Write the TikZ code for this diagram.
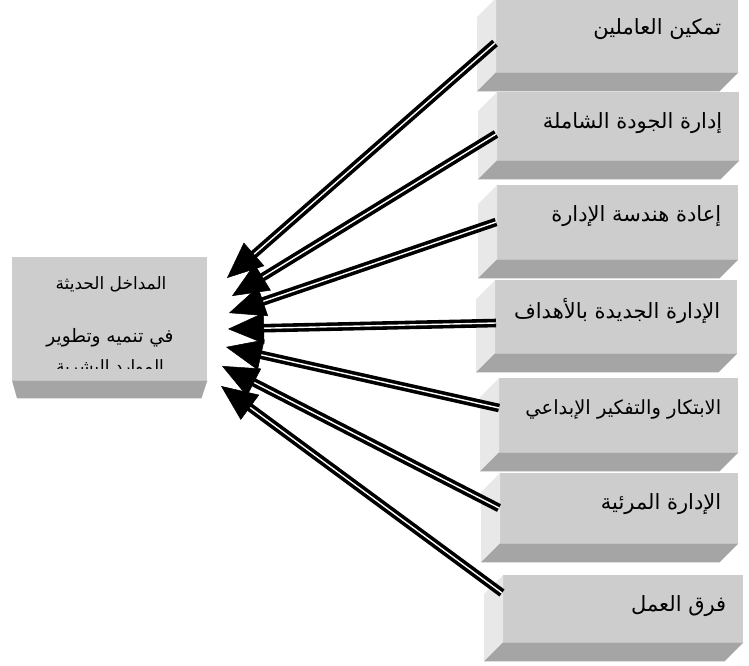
\documentclass[tikz,border=0pt]{standalone}
\usepackage{fontspec}
\newfontfamily\arabicfont[Script=Arabic]{DejaVu Sans}
\TeXXeTstate=1
\usetikzlibrary{calc,arrows.meta}
\definecolor{frontc}{RGB}{205,205,205}
\definecolor{sidec}{RGB}{232,232,232}
\definecolor{bottomc}{RGB}{165,165,165}
\tikzset{
 front/.style={fill=frontc, draw=none, inner sep=0pt, anchor=north west},
 sideface/.style={fill=sidec},
 bottomface/.style={fill=bottomc},
 lbl/.style={anchor=east, inner sep=0pt, text=black},
 conn/.style={draw=black, line width=3.6pt, double=white, double distance=1.4pt, shorten >=28pt},
 head/.style={-{Triangle[length=36pt,width=31pt]}, line width=0.5pt, draw=black, fill=black}
}
\newcommand\rbox[7]{%
 \node[front, minimum width=#4pt, minimum height=#5pt] (#1) at (#2,#3) {};
 \fill[sideface] (#1.north west) -- (#1.south west) -- ++(-19,19) -- ($(#1.north west)+(-19,19)$) -- cycle;
 \fill[bottomface] (#1.south west) -- (#1.south east) -- ++(-19,19) -- ($(#1.south west)+(-19,19)$) -- cycle;
 \node[lbl, font=\arabicfont\fontsize{#6}{#6}\selectfont] (#1t) at ($(#1.north east)+(-17,31)$) {#7};
}
\begin{document}
\begin{tikzpicture}[x=1pt,y=-1pt]
\useasboundingbox (0,0) rectangle (749,665);
% left box
\node[front, minimum width=195pt, minimum height=123pt] (L) at (12,257) {};
\fill[bottomface] (L.south west) -- (L.south east) -- ++(-6,18) -- ($(L.south west)+(5,18)$) -- cycle;
\node[font=\arabicfont\fontsize{17}{17}\selectfont, inner sep=0pt] (L1) at (111,284) {\beginR المداخل الحديثة\endR};
\node[font=\arabicfont\fontsize{18.5}{18.5}\selectfont, inner sep=0pt] (L2) at (110,338) {\beginR في تنميه وتطوير\endR};
\begin{scope}
\clip (12,350) rectangle (207,368.5);
\node[font=\arabicfont\fontsize{17}{17}\selectfont, inner sep=0pt] (L3) at (110,368) {\beginR الموارد البشرية\endR};
\end{scope}
% right boxes
\rbox{b1}{496}{-2}{242}{74}{21}{\beginR تمكين العاملين\endR}
\rbox{b2}{497}{92}{242}{68}{21}{\beginR إدارة الجودة الشاملة\endR}
\rbox{b3}{497}{185}{241}{74}{21}{\beginR إعادة هندسة الإدارة\endR}
\rbox{b4}{495}{280}{242}{73}{21}{\beginR الإدارة الجديدة بالأهداف\endR}
\rbox{b5}{499}{378}{239}{74}{19.5}{\beginR الابتكار والتفكير الإبداعي\endR}
\rbox{b6}{500}{473}{238}{70}{21}{\beginR الإدارة المرئية\endR}
\rbox{b7}{503}{575}{240}{67}{21}{\beginR فرق العمل\endR}
% connector ends
\coordinate (t1) at (495,43);
\coordinate (t2) at (496,134);
\coordinate (t3) at (496,222);
\coordinate (t4) at (496,323);
\coordinate (t5) at (499,408);
\coordinate (t6) at (499,508);
\coordinate (t7) at (502,593);
\coordinate (h1) at (227,278);
\coordinate (h2) at (232,296);
\coordinate (h3) at (229,313);
\coordinate (h4) at (228,329);
\coordinate (h5) at (226,347);
\coordinate (h6) at (222,366);
\coordinate (h7) at (221,386);
\foreach \i in {1,...,7}{\draw[conn] (t\i) -- (h\i);}
\foreach \i in {1,...,7}{\draw[head] ($(h\i)!36pt!(t\i)$) -- (h\i);}
\end{tikzpicture}
\end{document}
